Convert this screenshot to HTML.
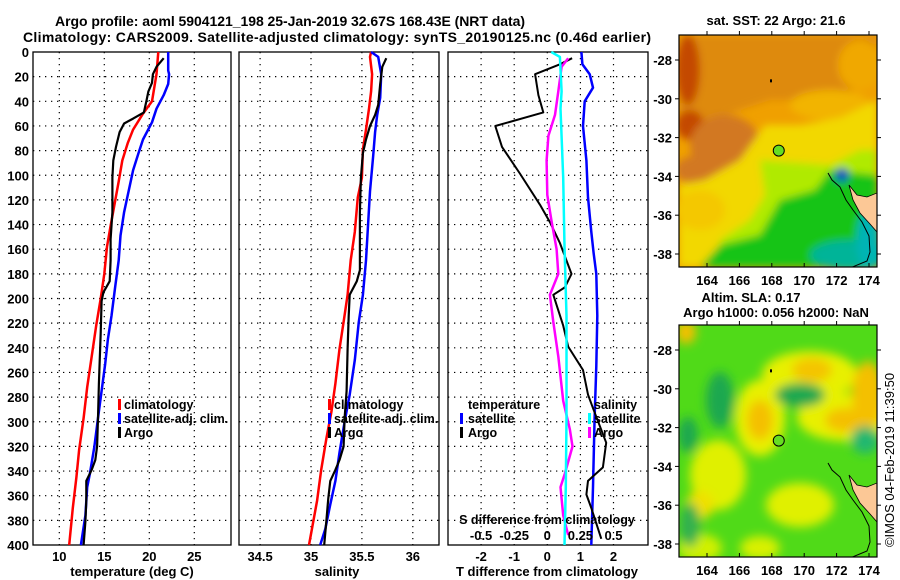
<!DOCTYPE html>
<html><head><meta charset="utf-8"><style>
html,body{margin:0;padding:0;background:#fff;}
svg{display:block;font-family:"Liberation Sans",sans-serif;}
.t{font-weight:bold;font-size:13px;fill:#000}
.s{font-weight:bold;font-size:12.5px;fill:#000}
</style></head><body>
<svg id="fig" width="900" height="580" viewBox="0 0 900 580" xmlns="http://www.w3.org/2000/svg">
<defs>
<filter id="blur1" x="-10%" y="-10%" width="120%" height="120%"><feGaussianBlur stdDeviation="4"/></filter>
<filter id="blur2" x="-10%" y="-10%" width="120%" height="120%"><feGaussianBlur stdDeviation="5"/></filter>
<clipPath id="clipM1"><rect x="679" y="35" width="198" height="232"/></clipPath>
<clipPath id="clipM2"><rect x="679" y="325" width="198" height="232"/></clipPath>
</defs>
<text x="290" y="26" text-anchor="middle" class="t" style="font-size:14px" textLength="470">Argo profile: aoml 5904121_198 25-Jan-2019 32.67S 168.43E (NRT data)</text>
<text x="337" y="42" text-anchor="middle" class="t" style="font-size:14px" textLength="628">Climatology: CARS2009. Satellite-adjusted climatology: synTS_20190125.nc (0.46d earlier)</text>
<g id="panels"></g>
<g id="maps"></g>
<text transform="translate(894,460) rotate(-90)" text-anchor="middle" style="font-size:13px">©IMOS 04-Feb-2019 11:39:50</text>
</svg>
<script>
// depth levels and values
const tDepthClim = [0,18,40,50,63,74,88,105,121,141,158,180,200,222,247,272,297,323,345,370,400];
const tempClim = [21.0,20.8,20.3,19.3,18.2,17.6,17.0,16.6,16.2,15.7,15.3,15.0,14.6,14.1,13.6,13.1,12.7,12.2,11.9,11.5,11.1];
const tDepthSat = [0,15,18,26,35,46,57,71,82,96,113,130,149,169,191,214,233,253,275,297,320,342,353,376,400];
const tempSat = [22.1,22.1,22.2,22.1,21.6,20.8,20.3,19.3,18.8,18.2,17.7,17.2,16.8,16.6,16.2,15.8,15.4,15.1,14.7,14.3,13.9,13.4,13.1,12.9,12.4];
const tDepthArgo = [5,12,18,25,32,39,49,54,58,65,77,88,102,130,152,169,186,195,202,228,269,297,320,331,339,348,364,381,400];
const tempArgo = [21.6,20.8,20.4,20.3,19.9,19.7,19.4,18.2,17.2,16.7,16.3,16.0,15.9,15.9,15.7,15.7,15.6,14.9,14.7,14.6,14.4,14.3,14.2,14.0,13.6,13.0,13.0,12.9,12.7];

const sDepthClim = [0,4,18,32,46,63,79,102,118,146,169,197,219,241,269,292,314,339,364,400];
const salClim = [35.59,35.58,35.60,35.59,35.57,35.54,35.51,35.50,35.46,35.43,35.39,35.36,35.32,35.28,35.24,35.20,35.15,35.10,35.06,34.98];
const sDepthSat = [0,4,18,37,51,65,85,113,141,169,197,219,250,278,300,325,348,367,387,400];
const salSat = [35.59,35.66,35.69,35.68,35.65,35.63,35.61,35.58,35.56,35.54,35.51,35.47,35.43,35.38,35.33,35.28,35.24,35.19,35.14,35.09];
const sDepthArgo = [5,12,26,43,51,60,71,82,102,130,177,186,197,214,241,275,297,320,331,339,348,362,381,400];
const salArgo = [35.74,35.70,35.68,35.66,35.63,35.58,35.54,35.51,35.49,35.48,35.48,35.45,35.38,35.37,35.36,35.35,35.33,35.32,35.28,35.24,35.19,35.17,35.15,35.13];

const dDepthSatT = [0,10,18,29,40,60,88,118,146,163,180,214,255,297,353,400];
const dTempSat = [1.03,1.06,1.28,1.38,1.13,1.08,1.18,1.23,1.33,1.40,1.48,1.51,1.48,1.43,1.38,1.33];
const dDepthArgoT = [5,10,18,35,49,60,77,99,124,138,155,180,191,197,222,239,258,278,289,317,337,348,359,370,395];
const dTempArgo = [0.75,0.38,-0.37,-0.27,-0.12,-1.57,-1.37,-0.82,-0.22,0.08,0.38,0.73,0.53,0.18,0.48,0.63,1.08,1.23,1.38,1.78,1.68,1.23,1.18,1.33,1.63];
const dDepthSatS = [0,4,32,46,102,158,214,297,353,400];
const dSalSat = [0.03,0.095,0.108,0.10,0.12,0.13,0.145,0.145,0.14,0.13];
const dDepthArgoS = [5,12,32,51,68,88,116,138,160,180,197,219,247,283,306,320,342,353,376,392];
const dSalArgo = [0.158,0.108,0.083,0.058,0.008,-0.005,0.0,0.033,0.07,0.083,0.02,0.045,0.083,0.12,0.17,0.19,0.133,0.10,0.12,0.158];

const depthTicks = [0,20,40,60,80,100,120,140,160,180,200,220,240,260,280,300,320,340,360,380,400];
const tempTicks = [10,15,20,25];
const salTicks = [34.5,35,35.5,36];
const dTTicks = [-2,-1,0,1,2];
const dSTicks = [-0.5,-0.25,0,0.25,0.5];
const lonTicks = [164,166,168,170,172,174];
const latTicks = [-28,-30,-32,-34,-36,-38];
const argoLon = 168.43, argoLat = -32.67;

const NS = 'http://www.w3.org/2000/svg';
function mk(tag, attrs, parent){const e=document.createElementNS(NS,tag);for(const k in attrs)e.setAttribute(k,attrs[k]);parent.appendChild(e);return e;}
const Y0=52, Y1=545;
function yD(d){return Y0+d*(Y1-Y0)/400;}
const gp=document.getElementById('panels');

function panel(name,x0,x1,xs,ticks,labels){
  const g=mk('g',{},gp);
  
  
  depthTicks.forEach(d=>{ if(d>0&&d<400){const l=mk('line',{x1:x0,x2:x1,y1:yD(d),y2:yD(d),stroke:'#000','stroke-width':1.2,'stroke-dasharray':'1.3,4.7'},g);
    
    }});
  ticks.forEach((t,i)=>{const x=xs(t);const l=mk('line',{x1:x,x2:x,y1:Y0,y2:Y1,stroke:'#000','stroke-width':1.2,'stroke-dasharray':'1.3,4.7'},g);
    
    
    if(labels){const tx=mk('text',{x:x,y:561,'text-anchor':'middle',class:'t'},g);tx.textContent=labels[i];
    
    }});
  const r=mk('rect',{x:x0,y:Y0,width:x1-x0,height:Y1-Y0,fill:'none',stroke:'#000','stroke-width':1.3},g);
  
  
  return g;
}
function line(g,name,xs,vals,deps,color,w){
  const pts=vals.map((v,i)=>xs(v).toFixed(1)+','+yD(deps[i]).toFixed(1)).join(' ');
  const p=mk('polyline',{points:pts,fill:'none',stroke:color,'stroke-width':w,'stroke-linejoin':'round'},g);
  
  
}
function txt(g,name,x,y,s,cls,anchor){const t=mk('text',{x:x,y:y,class:cls||'s','text-anchor':anchor||'start'},g);t.textContent=s;
  
  return t;}
function legBar(g,x,y,color){const r=mk('rect',{x:x,y:y-10,width:3,height:11,fill:color},g);
  
  }

// Panel 1: temperature
const xT=t=>59.3+(t-10)*9;
const p1=panel('temperature-panel',33,231,xT,tempTicks,tempTicks.map(String));
depthTicks.forEach(d=>{const t=txt(p1,'y-tick-label',29,yD(d)+5,String(d),'t','end');});
line(p1,'temperature-climatology-line',xT,tempClim,tDepthClim,'#ff0000',2.5);
line(p1,'temperature-satellite-line',xT,tempSat,tDepthSat,'#0000ff',2.5);
line(p1,'temperature-argo-line',xT,tempArgo,tDepthArgo,'#000',2.2);
txt(p1,'x-axis-title',132,576,'temperature (deg C)','t','middle');
legBar(p1,118,409,'#ff0000');txt(p1,'legend-entry-climatology',124,409,'climatology');
legBar(p1,118,423,'#0000ff');txt(p1,'legend-entry-satellite',124,423,'satellite-adj. clim.');
legBar(p1,118,437,'#000');txt(p1,'legend-entry-argo',124,437,'Argo');

// Panel 2: salinity
const xS=s=>311+(s-35)*101.8;
const p2=panel('salinity-panel',239,439,xS,salTicks,['34.5','35','35.5','36']);
line(p2,'salinity-climatology-line',xS,salClim,sDepthClim,'#ff0000',2.5);
line(p2,'salinity-satellite-line',xS,salSat,sDepthSat,'#0000ff',2.5);
line(p2,'salinity-argo-line',xS,salArgo,sDepthArgo,'#000',2.2);
txt(p2,'x-axis-title',337,576,'salinity','t','middle');
legBar(p2,328,409,'#ff0000');txt(p2,'legend-entry-climatology',334,409,'climatology');
legBar(p2,328,423,'#0000ff');txt(p2,'legend-entry-satellite',334,423,'satellite-adj. clim.');
legBar(p2,328,437,'#000');txt(p2,'legend-entry-argo',334,437,'Argo');

// Panel 3: differences
const xD=t=>547.3+t*33.1;
const xDS=s=>547.3+s*4*33.1;
const p3=panel('difference-panel',448,648,xD,dTTicks,['-2','-1','0','1','2']);
line(p3,'temp-diff-satellite-line',xD,dTempSat,dDepthSatT,'#0000ff',2.5);
line(p3,'temp-diff-argo-line',xD,dTempArgo,dDepthArgoT,'#000',2);
line(p3,'sal-diff-argo-line',xDS,dSalArgo,dDepthArgoS,'#ff00ff',2.5);
line(p3,'sal-diff-satellite-line',xDS,dSalSat,dDepthSatS,'#00ffff',2.5);
dSTicks.forEach(s=>{txt(p3,'s-tick-label',xDS(s),540,String(s),'t','middle');});
txt(p3,'s-axis-title',547,524,'S difference from climatology','s','middle');
txt(p3,'x-axis-title',547,576,'T difference from climatology','t','middle');
txt(p3,'legend-title-temperature',468,409,'temperature');
legBar(p3,460,423,'#0000ff');txt(p3,'legend-entry-temp-satellite',468,423,'satellite');
legBar(p3,460,437,'#000');txt(p3,'legend-entry-temp-argo',468,437,'Argo');
txt(p3,'legend-title-salinity',594,409,'salinity');
legBar(p3,588,423,'#00ffff');txt(p3,'legend-entry-sal-satellite',594,423,'satellite');
legBar(p3,588,437,'#ff00ff');txt(p3,'legend-entry-sal-argo',594,437,'Argo');

// Maps
const gm=document.getElementById('maps');
const lonX=l=>707+(l-164)*16.2;
function mapFrame(name,top,lat28,blobs,base,blurId,clip){
  const g=mk('g',{},gm);
  
  
  const latY=la=>lat28+(-28-la)*19.4;
  const inner=mk('g',{'clip-path':'url(#'+clip+')'},g);
  mk('rect',{x:679,y:top,width:198,height:232,fill:base},inner);
  const bg=mk('g',{filter:'url(#'+blurId+')'},inner);
  const o=top-35;
  blobs.forEach(b=>{ if(b[0]==='p'){const pts=b[1].split(' ').map(q=>{const a=q.split(',');return a[0]+','+(+a[1]+o);}).join(' ');mk('polygon',{points:pts,fill:b[2]},bg);} else mk('ellipse',{cx:b[1],cy:b[2]+o,rx:b[3],ry:b[4],fill:b[5]},bg);});
  const land=mk('polygon',{points:`849,${185+o} 857,${195+o} 867,${197+o} 877,${193+o} 877,${232+o} 870,${224+o} 860,${213+o} 853,${200+o}`,fill:'#fcc896',stroke:'#000','stroke-width':0.8},inner);
  
  
  mk('polyline',{points:`828,${173+o} 832,${180+o} 840,${187+o} 846,${200+o} 853,${210+o} 862,${222+o} 869,${236+o} 870,${252+o} 867,${261+o} 850,${268+o}`,fill:'none',stroke:'#000','stroke-width':1},inner);
  mk('rect',{x:770,y:latY(-29.1)-2,width:2,height:3,fill:'#000'},inner);
  const dot=mk('circle',{cx:lonX(argoLon),cy:latY(argoLat),r:5.5,fill:'#66dd22',stroke:'#000','stroke-width':1},g);
  
  
  const fr=mk('rect',{x:679,y:top,width:198,height:232,fill:'none',stroke:'#000','stroke-width':1.2},g);
  
  
  lonTicks.forEach(l=>{const x=lonX(l);mk('line',{x1:x,x2:x,y1:top-4,y2:top,stroke:'#000'},g);mk('line',{x1:x,x2:x,y1:top+232,y2:top+228,stroke:'#000'},g);
    txt(g,'lon-tick-label',x,top+250,String(l),'t','middle');});
  latTicks.forEach(la=>{const y=latY(la);mk('line',{x1:679,x2:675,y1:y,y2:y,stroke:'#000'},g);mk('line',{x1:877,x2:881,y1:y,y2:y,stroke:'#000'},g);
    txt(g,'lat-tick-label',672,y+5,String(la),'t','end');});
  return g;
}
const sstBlobs=[
  ['p','679,35 877,35 877,80 840,95 800,100 770,100 740,110 700,125 679,130','#de8a10'],
  ['e',688,70,12,35,'#c44a00'],['e',690,125,14,15,'#c44a00'],['e',725,145,35,30,'#d27820'],
  ['e',700,170,25,15,'#d27820'],
  ['e',860,65,22,25,'#f0a800'],['e',830,105,40,15,'#f2b400'],
  ['p','679,185 705,180 740,160 765,125 800,125 840,118 877,100 877,267 679,267','#f2d800'],
  ['e',700,210,25,20,'#f4c800'],
  ['p','760,160 790,162 830,165 860,150 877,150 877,267 720,267 720,240 750,220 765,195','#b0ea00'],
  ['p','780,200 815,190 830,170 877,175 877,267 700,267 720,245 760,235','#18c418'],
  ['e',850,255,40,15,'#00b498'],['e',868,240,12,30,'#00b4b4'],['e',842,175,7,7,'#0050c0']
];
const slaBlobs=[
  ['e',686,42,10,12,'#f4c000'],
  ['e',810,85,48,24,'#e8f000'],['e',812,80,20,12,'#f4c400'],
  ['e',760,128,25,38,'#e8f000'],['e',760,130,13,20,'#f4c000'],
  ['e',845,127,48,24,'#e8f000'],['e',845,130,20,12,'#f4c000'],
  ['e',868,105,16,34,'#f4c000'],
  ['e',718,185,28,35,'#e0f000'],['e',700,215,14,14,'#f0e000'],
  ['e',800,215,34,22,'#e0f000'],['e',700,258,22,14,'#d0f000'],['e',760,258,20,12,'#d8f000'],
  ['e',720,110,14,28,'#1ea850'],['e',800,105,25,12,'#1ea850'],['e',688,145,10,18,'#1ea850'],
  ['e',865,150,14,14,'#20b870'],['e',690,235,10,22,'#30b050']
];
mapFrame('sst-map',35,60,sstBlobs,'#f0a000','blur1','clipM1');
mapFrame('sla-map',325,350,slaBlobs,'#50da18','blur2','clipM2');
txt(gm,'sst-map-title',776,25,'sat. SST: 22 Argo: 21.6','t','middle');
txt(gm,'sla-map-title',751,302,'Altim. SLA: 0.17','t','middle');
txt(gm,'sla-map-subtitle',776,317,'Argo h1000: 0.056 h2000: NaN','t','middle');
</script>
</body></html>
